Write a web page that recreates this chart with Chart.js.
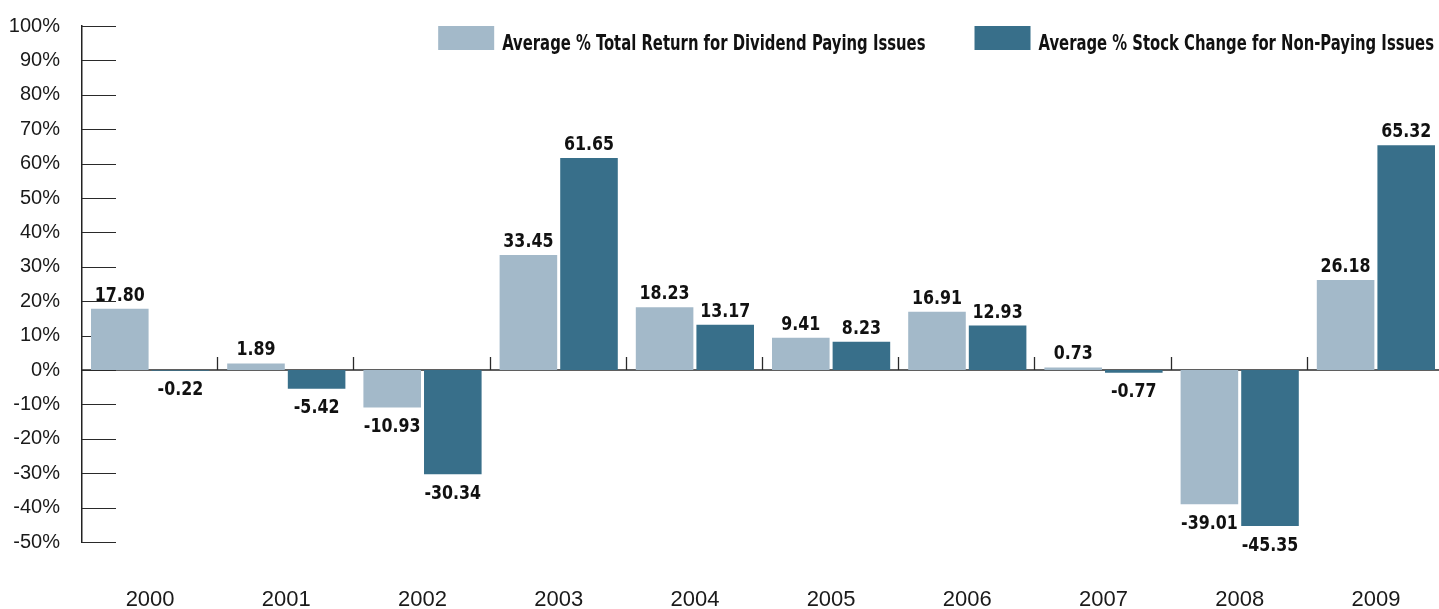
<!DOCTYPE html>
<html><head><meta charset="utf-8">
<script src="https://cdn.jsdelivr.net/npm/chart.js@4"></script>
<style>
html,body{margin:0;padding:0;background:#fff;overflow:hidden;}
#wrap{position:relative;width:1444px;height:609px;}
</style></head><body>
<div id="wrap"><canvas id="c"></canvas></div>
<script>
const years = ['2000','2001','2002','2003','2004','2005','2006','2007','2008','2009'];
const dividendPaying = [17.80, 1.89, -10.93, 33.45, 18.23, 9.41, 16.91, 0.73, -39.01, 26.18];
const nonPaying = [-0.22, -5.42, -30.34, 61.65, 13.17, 8.23, 12.93, -0.77, -45.35, 65.32];
const seriesNames = ['Average % Total Return for Dividend Paying Issues', 'Average % Stock Change for Non-Paying Issues'];
const seriesColors = ['#A3B9C9', '#386F8A'];
const yMin = -50, yMax = 100, yStep = 10;

const COND = "'DejaVu Sans Condensed', 'Liberation Sans Narrow', sans-serif";

function line(ctx, x1, y1, x2, y2){ ctx.beginPath(); ctx.moveTo(x1,y1); ctx.lineTo(x2,y2); ctx.stroke(); }

// draw horizontally compressed text (condensed look); align: 'left' or 'center'
function squeezedText(ctx, txt, x, y, sx, align){
  const w = ctx.measureText(txt).width * sx;
  const left = align === 'center' ? x - w / 2 : x;
  ctx.save();
  ctx.translate(left, y);
  ctx.scale(sx, 1);
  ctx.textAlign = 'left';
  ctx.fillText(txt, 0, 0);
  ctx.restore();
  return w;
}

const decor = {
  id: 'decor',
  beforeDatasetsDraw(chart){
    const {ctx, chartArea: a, scales: {x, y}} = chart;
    const y0 = Math.round(y.getPixelForValue(0));
    ctx.save();
    ctx.strokeStyle = '#2a2a2a';
    ctx.lineWidth = 1;
    y.ticks.forEach(t => {
      const py = Math.round(y.getPixelForValue(t.value)) + 0.5;
      line(ctx, a.left, py, a.left + 34, py);
    });
    ctx.lineWidth = 1.6;
    line(ctx, a.left, y0, chart.width, y0);
    ctx.lineWidth = 1.3;
    for (let i = 1; i < years.length; i++){
      const px = Math.round((x.getPixelForValue(i-1) + x.getPixelForValue(i)) / 2) - 0.5;
      line(ctx, px, y0 - 13, px, y0);
    }
    ctx.restore();
  },
  afterDatasetsDraw(chart){
    const {ctx} = chart;
    ctx.save();
    // value labels
    ctx.font = "bold 20px " + COND;
    ctx.fillStyle = '#111';
    ctx.textBaseline = 'alphabetic';
    chart.data.datasets.forEach((ds, di) => {
      const meta = chart.getDatasetMeta(di);
      meta.data.forEach((bar, j) => {
        const v = ds.data[j];
        const txt = v.toFixed(2);
        if (v >= 0) squeezedText(ctx, txt, bar.x, bar.y - 8, 0.88, 'center');
        else squeezedText(ctx, txt, bar.x, bar.y + 24.5, 0.88, 'center');
      });
    });
    // legend
    ctx.font = "bold 21px " + COND;
    const sx = 0.785;
    let cursor = 1434;
    for (let i = chart.data.datasets.length - 1; i >= 0; i--){
      const ds = chart.data.datasets[i];
      const w = ctx.measureText(ds.label).width * sx;
      const tx = cursor - w;
      const bx = tx - 8 - 56;
      ctx.fillStyle = ds.backgroundColor;
      ctx.fillRect(bx, 26, 56, 24);
      ctx.fillStyle = '#111';
      squeezedText(ctx, ds.label, tx, 50, sx, 'left');
      cursor = bx - 49;
    }
    ctx.restore();
  }
};

new Chart(document.getElementById('c'), {
  type: 'bar',
  data: {
    labels: years,
    datasets: [
      {label: seriesNames[0], data: dividendPaying, backgroundColor: seriesColors[0], categoryPercentage: 0.89, barPercentage: 0.95},
      {label: seriesNames[1], data: nonPaying, backgroundColor: seriesColors[1], categoryPercentage: 0.89, barPercentage: 0.95}
    ]
  },
  options: {
    responsive: true,
    maintainAspectRatio: false,
    animation: false,
    layout: {padding: {top: 18, left: 0, right: 0, bottom: 0}},
    plugins: {legend: {display: false}, tooltip: {enabled: false}},
    scales: {
      x: {
        grid: {display: false},
        border: {display: false},
        ticks: {color: '#1a1a1a', font: {family: "'Liberation Sans', Arial, sans-serif", size: 22}, padding: 37, maxRotation: 0, autoSkip: false},
        afterFit(s){ s.height = 67; }
      },
      y: {
        min: yMin, max: yMax,
        grid: {display: false},
        border: {display: true, color: '#222', width: 1.5},
        ticks: {stepSize: yStep, callback: v => v + '%', color: '#1a1a1a', font: {family: "'Liberation Sans', Arial, sans-serif", size: 20}, padding: 14},
        afterFit(s){ s.width = 82; }
      }
    }
  },
  plugins: [decor]
});
</script>
</body></html>
